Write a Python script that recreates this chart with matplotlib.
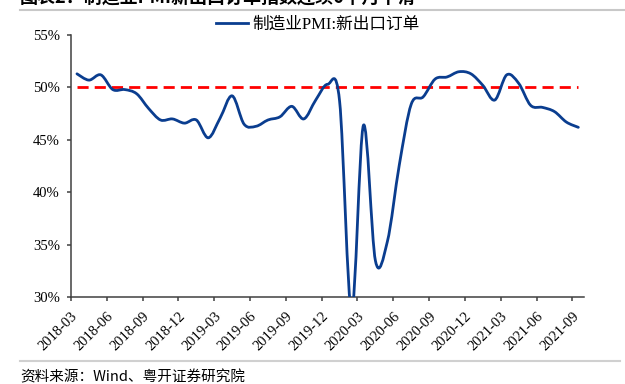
import numpy as np
import matplotlib
matplotlib.use("Agg")
import matplotlib.pyplot as plt
from matplotlib.path import Path
from matplotlib.patches import PathPatch
from matplotlib.lines import Line2D
from matplotlib.transforms import ScaledTranslation

# DADOS: PMI novas encomendas de exportação (%), mensal 2018-03 .. 2021-09
meses = ["2018-03", "2018-04", "2018-05", "2018-06", "2018-07", "2018-08", "2018-09",
         "2018-10", "2018-11", "2018-12",
         "2019-01", "2019-02", "2019-03", "2019-04", "2019-05", "2019-06", "2019-07",
         "2019-08", "2019-09", "2019-10", "2019-11", "2019-12",
         "2020-01", "2020-02", "2020-03", "2020-04", "2020-05", "2020-06", "2020-07",
         "2020-08", "2020-09", "2020-10", "2020-11", "2020-12",
         "2021-01", "2021-02", "2021-03", "2021-04", "2021-05", "2021-06", "2021-07",
         "2021-08", "2021-09"]
novas_export = [51.3, 50.7, 51.2, 49.8, 49.8, 49.4, 48.0, 46.9, 47.0, 46.6,
                46.9, 45.2, 47.1, 49.2, 46.5, 46.3, 46.9, 47.2, 48.2, 47.0, 48.8, 50.3,
                48.7, 28.7, 46.4, 33.5, 35.3, 42.6, 48.4, 49.1, 50.8, 51.0, 51.5, 51.3,
                50.2, 48.8, 51.2, 50.4, 48.3, 48.1, 47.7, 46.7, 46.2]
linha_50 = 50.0
yticks = [30, 35, 40, 45, 50, 55]

titulo = "图表2：制造业PMI新出口订单指数连续6个月下滑"
legenda = "制造业PMI:新出口订单"
fonte = "资料来源：Wind、粤开证券研究院"

# ESTILO
azul = "#0a3d8f"
cinza_eixo = "#404040"
serif = ["Liberation Serif", "Noto Sans CJK SC"]
sans = ["Noto Sans CJK SC", "DejaVu Sans"]

fig = plt.figure(figsize=(6.25, 3.84), dpi=100)
ax = fig.add_axes([71 / 625, 1 - 297.3 / 384, (584.3 - 71) / 625, (297.3 - 35) / 384])

# posicoes das categorias (centro de cada mes)
x = np.arange(len(novas_export)) + 0.5
y = np.array(novas_export)

# linha suavizada tipo Excel (bezier cubica)
verts = [(x[0], y[0])]
codes = [Path.MOVETO]
n = len(x)
for i in range(n - 1):
    p0 = np.array([x[max(i - 1, 0)], y[max(i - 1, 0)]])
    p1 = np.array([x[i], y[i]])
    p2 = np.array([x[i + 1], y[i + 1]])
    p3 = np.array([x[min(i + 2, n - 1)], y[min(i + 2, n - 1)]])
    c1 = p1 + (p2 - p0) / 6.0
    c2 = p2 - (p3 - p1) / 6.0
    verts += [tuple(c1), tuple(c2), tuple(p2)]
    codes += [Path.CURVE4, Path.CURVE4, Path.CURVE4]
curva = PathPatch(Path(verts, codes), facecolor="none", edgecolor=azul, lw=2.0,
                  capstyle="round", joinstyle="round", zorder=3)
ax.add_patch(curva)

# linha de 50%
ax.plot([x[0], x[-1]], [linha_50, linha_50], color="red", lw=2.0,
        dashes=(4, 2.2), zorder=2)

ax.set_xlim(0, len(meses))
ax.set_ylim(30, 55)

ax.set_yticks(yticks)
ax.set_yticklabels(["%d%%" % v for v in yticks], fontfamily=serif, fontsize=10.5)
ax.set_xticks(np.arange(0, len(meses), 3))
ax.set_xticklabels(meses[::3], fontfamily=serif, fontsize=10.5, rotation=45,
                   ha="right", va="top", rotation_mode="anchor")
desloc = ScaledTranslation(9 / 100, 0, fig.dpi_scale_trans)
for lab in ax.get_xticklabels():
    lab.set_transform(lab.get_transform() + desloc)

for s in ["top", "right"]:
    ax.spines[s].set_visible(False)
for s in ["left", "bottom"]:
    ax.spines[s].set_color(cinza_eixo)
    ax.spines[s].set_linewidth(1.1)
ax.tick_params(axis="both", direction="out", length=3, width=1.1, color=cinza_eixo,
               labelcolor="black")
ax.tick_params(axis="y", pad=5)
ax.tick_params(axis="x", pad=6)

# legenda
h = Line2D([], [], color=azul, lw=2.0)
fig.legend([h], [legenda], loc="center", bbox_to_anchor=(318 / 625, 1 - 25 / 384),
           frameon=False, prop={"family": serif, "size": 12},
           handlelength=1.9, handletextpad=0.25, borderaxespad=0, borderpad=0)

# titulo cortado no topo e linhas cinza
fig.text(20 / 625, 1 - 4 / 384, titulo, fontsize=13, fontweight="bold",
         fontfamily=sans, ha="left", va="baseline", color="black")
fig.add_artist(Line2D([20 / 625, 1], [1 - 10 / 384, 1 - 10 / 384],
                      color="#c8c8c8", lw=1.5, transform=fig.transFigure))
fig.add_artist(Line2D([20 / 625, 620 / 625], [1 - 361 / 384, 1 - 361 / 384],
                      color="#d0d0d0", lw=1.5, transform=fig.transFigure))

# fonte
fig.text(20 / 625, 1 - 377 / 384, fonte, fontsize=10.5, fontfamily=sans,
         style="italic", ha="left", va="center", color="black")

fig.savefig("out.png", dpi=100)
